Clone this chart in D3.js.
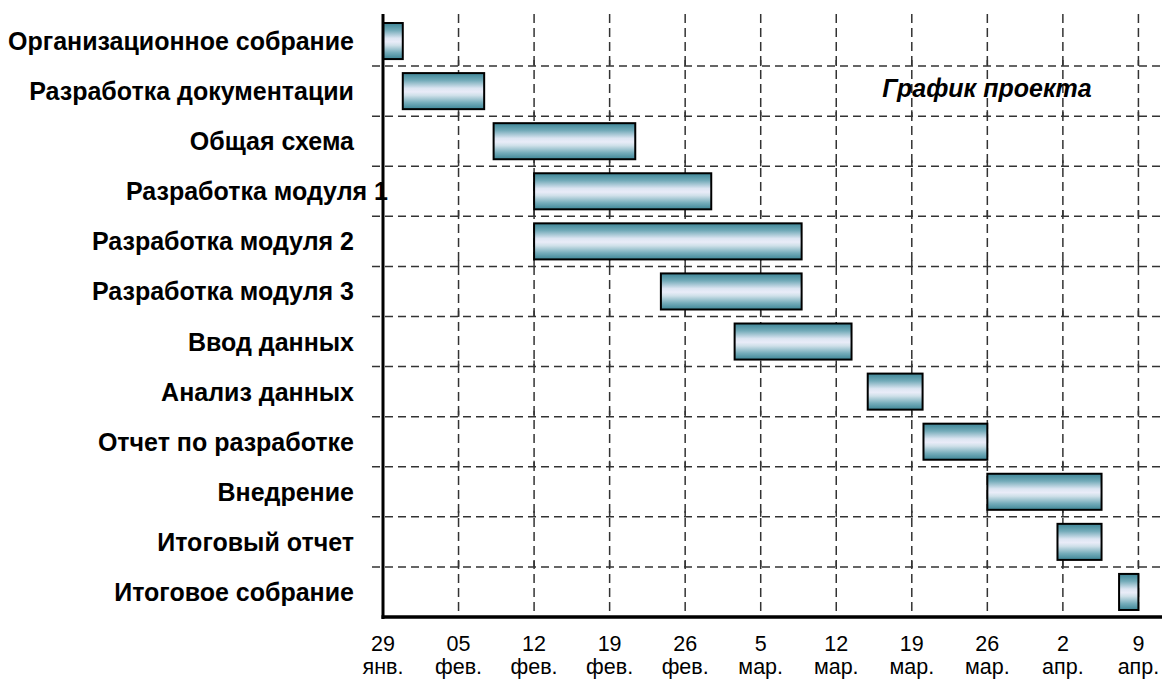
<!DOCTYPE html>
<html><head><meta charset="utf-8">
<script src="https://cdn.jsdelivr.net/npm/d3@7"></script>
<style>html,body{margin:0;padding:0;background:#fff;} svg{display:block;}</style>
</head><body>
<svg id="chart" width="1162" height="679"></svg>
<script>
const tasks = ["Организационное собрание","Разработка документации","Общая схема","Разработка модуля 1","Разработка модуля 2","Разработка модуля 3","Ввод данных","Анализ данных","Отчет по разработке","Внедрение","Итоговый отчет","Итоговое собрание"];
const starts = ["2007-01-29T00:00","2007-01-30T20:00","2007-02-08T06:00","2007-02-12T00:00","2007-02-12T00:00","2007-02-23T18:00","2007-03-02T14:00","2007-03-14T22:00","2007-03-20T02:00","2007-03-26T00:00","2007-04-01T12:00","2007-04-07T05:00"];
const ends   = ["2007-01-30T20:00","2007-02-07T09:00","2007-02-21T09:00","2007-02-28T10:00","2007-03-08T19:00","2007-03-08T19:00","2007-03-13T10:00","2007-03-20T00:00","2007-03-26T00:00","2007-04-05T14:00","2007-04-05T14:00","2007-04-09T00:00"];
const tickDates = ["2007-01-29","2007-02-05","2007-02-12","2007-02-19","2007-02-26","2007-03-05","2007-03-12","2007-03-19","2007-03-26","2007-04-02","2007-04-09"];
const tickDays = ["29","05","12","19","26","5","12","19","26","2","9"];
const tickMonths = ["янв.","фев.","фев.","фев.","фев.","мар.","мар.","мар.","мар.","апр.","апр."];
const domainStart = "2007-01-29", domainEnd = "2007-04-11";
const chartTitle = "График проекта";

const P = s => new Date(s.length > 10 ? s + "Z" : s + "T00:00Z");
const svg = d3.select("#chart");
const mLeft = 383, mRight = 1160, mTop = 16, mBottom = 617;

const x = d3.scaleUtc().domain([P(domainStart), P(domainEnd)]).range([mLeft, mRight]);
const y = d3.scaleBand().domain(tasks).range([mTop, mBottom]).padding(0);
const step = y.step();

const defs = svg.append("defs");
const grad = defs.append("linearGradient").attr("id","bar").attr("x1",0).attr("y1",0).attr("x2",0).attr("y2",1);
[[0,"#3d8596"],[0.2,"#72aab8"],[0.42,"#dce5f2"],[0.52,"#e9ecf8"],[0.62,"#cfe0e9"],[0.82,"#76adbb"],[1,"#3d8596"]]
  .forEach(([o,c]) => grad.append("stop").attr("offset",o).attr("stop-color",c));

const ticks = tickDates.map(P);
const grid = svg.append("g");
grid.selectAll("line.v").data(ticks.slice(1)).join("line")
  .attr("x1", d => x(d)).attr("x2", d => x(d))
  .attr("y1", 14).attr("y2", mBottom)
  .attr("stroke","#333").attr("stroke-width",1.5).attr("stroke-dasharray","9,5");
const seps = tasks.slice(1).map(t => y(t));
grid.append("g").selectAll("line").data(seps).join("line")
  .attr("x1", mLeft - 11).attr("x2", 1162)
  .attr("y1", d => d).attr("y2", d => d)
  .attr("stroke","#333").attr("stroke-width",1.5).attr("stroke-dasharray","8,5");
seps.forEach(sy => {
  grid.append("g").selectAll("line").data(ticks.slice(1)).join("line")
    .attr("x1", d => x(d)).attr("x2", d => x(d))
    .attr("y1", sy - 6).attr("y2", sy)
    .attr("stroke","#333").attr("stroke-width",1.5);
});

svg.append("g").selectAll("rect").data(tasks).join("rect")
  .attr("x", (d,i) => x(P(starts[i])))
  .attr("width", (d,i) => x(P(ends[i])) - x(P(starts[i])))
  .attr("y", d => y(d) + step*0.14)
  .attr("height", step*0.72)
  .attr("fill","url(#bar)").attr("stroke","#000").attr("stroke-width",2);

svg.append("line").attr("x1",mLeft).attr("x2",mLeft).attr("y1",14).attr("y2",mBottom+2)
  .attr("stroke","#000").attr("stroke-width",3);
svg.append("line").attr("x1",mLeft-1.5).attr("x2",1162).attr("y1",mBottom).attr("y2",mBottom)
  .attr("stroke","#000").attr("stroke-width",3.5);

svg.append("g").selectAll("text").data(tasks).join("text")
  .attr("x", d => d === "Разработка модуля 1" ? mLeft + 5 : mLeft - 29)
  .attr("y", d => y(d) + step/2 + 9)
  .attr("text-anchor","end")
  .attr("font-family","Liberation Sans, Arial, sans-serif")
  .attr("font-weight","bold").attr("font-size",25).attr("fill","#000")
  .text(d => d);

const tl = svg.append("g").attr("font-family","Liberation Sans, Arial, sans-serif").attr("font-size",21.5).attr("fill","#000").attr("text-anchor","middle");
tl.selectAll("text.d").data(ticks).join("text").attr("class","d").attr("x", d => x(d)).attr("y", 651).text((d,i) => tickDays[i]);
tl.selectAll("text.m").data(ticks).join("text").attr("class","m").attr("x", d => x(d)).attr("y", 674).text((d,i) => tickMonths[i]);

svg.append("text").attr("x", 987).attr("y", 97).attr("text-anchor","middle")
  .attr("font-family","Liberation Sans, Arial, sans-serif")
  .attr("font-weight","bold").attr("font-style","italic").attr("font-size",25)
  .text(chartTitle);
</script>
</body></html>
